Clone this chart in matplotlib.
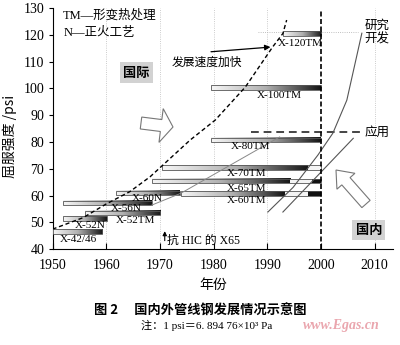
import numpy as np
import matplotlib
matplotlib.use('Agg')
import matplotlib.pyplot as plt
from matplotlib.colors import LinearSegmentedColormap
from matplotlib.patches import Polygon, Rectangle

SERIF = ['Liberation Serif', 'Noto Sans CJK SC']
CJK = ['Noto Sans CJK SC', 'DejaVu Sans']

# pipeline steel grades: service period (year) and yield strength (ksi)
grades     = ['X-42/46', 'X-52N', 'X-52TM', 'X-56N', 'X-60N', 'X-60TM',
              'X-65TM', 'X-70TM', 'X-80TM', 'X-100TM', 'X-120TM']
bar_start  = [1950, 1952, 1956, 1952, 1961.8, 1974, 1968.6, 1970.3, 1979.6, 1979.6, 1992.9]
bar_end    = [1959.3, 1960.1, 1970, 1968.5, 1973.7, 2000, 2000, 2000, 2000, 2000, 2000]
strength   = [46.6, 51.5, 53.6, 57.3, 61.0, 60.9, 65.5, 70.6, 80.7, 100.4, 120.5]
# light band where the domestic lines cut through a bar
gap_from   = [np.nan] * 5 + [1993.3, 1994.3, 1997.6] + [np.nan] * 3
gap_to     = [np.nan] * 5 + [1997.6, 1998.3, 2000] + [np.nan] * 3
label_year = [1954.9, 1957.0, 1965.5, 1963.8, 1967.7, 1986.2, 1986.2, 1986.2, 1986.8, 1992.2, 1996.1]
label_val  = [43.7, 48.8, 50.7, 55.3, 59.0, 58.1, 62.7, 68.3, 78.5, 97.5, 116.8]

# international trend curve (dashed)
trend_year = [1950, 1955.7, 1960, 1964.4, 1968.2, 1971.9, 1975.6, 1980.3, 1985.9, 1991.0, 1992.9, 1993.6]
trend_val  = [47.5, 51.8, 56.9, 61.5, 67.1, 73.9, 80.7, 88.2, 100.5, 115.5, 120.5, 125.5]

# domestic development lines
link_year = [1968.5, 1973.9, 1992.3]
link_val  = [56.5, 60.9, 81.9]
rd_year   = [2007.6, 2004.8, 2002.2, 1999.4, 1994.8, 1990.1]
rd_val    = [120.6, 95.6, 83.3, 75.1, 63.1, 53.9]
app_year  = [2006.0, 1992.9]
app_val   = [81.4, 53.9]
app_level = 83.6

W, H = 400, 345
fig = plt.figure(figsize=(W / 100, H / 100), dpi=100)
ax = fig.add_axes([52.5 / W, 1 - 249.3 / H, (393 - 52.5) / W, (249.3 - 8) / H])

bar_cmap = LinearSegmentedColormap.from_list('bar', ['#f6f6f6', '#b0b0b0', '#151515'])
grad = np.linspace(0, 1, 256).reshape(1, -1)
h = 1.7

for i, name in enumerate(grades):
    x0, x1, y = bar_start[i], bar_end[i], strength[i]
    g0 = x1 if np.isnan(gap_from[i]) else gap_from[i]
    ax.imshow(grad, extent=[x0, g0, y - h / 2, y + h / 2], cmap=bar_cmap,
              aspect='auto', interpolation='bilinear', zorder=3)
    if not np.isnan(gap_from[i]):
        ax.add_patch(Rectangle((gap_from[i], y - h / 2), gap_to[i] - gap_from[i], h,
                               fc='#f4f4f4', ec='none', zorder=3))
        if gap_to[i] < x1:
            ax.add_patch(Rectangle((gap_to[i], y - h / 2), x1 - gap_to[i], h,
                                   fc='#111111', ec='none', zorder=3))
    ax.add_patch(Rectangle((x0, y - h / 2), x1 - x0, h, fill=False,
                           ec='#555555', lw=0.6, zorder=4))
    ax.text(label_year[i], label_val[i], name, ha='center', va='center',
            fontsize=8, family=SERIF, zorder=5)

# trend curve and arrow
ax.plot(trend_year, trend_val, ls=(0, (3, 2)), color='k', lw=1.0, zorder=6)
ax.annotate('', xy=(1991.1, 115.5), xytext=(1979.0, 113.6),
            arrowprops=dict(arrowstyle='-|>', color='k', lw=0.9, mutation_scale=8))
ax.text(1972.2, 109.9, '发展速度加快', fontsize=8.5, family=CJK, va='center', ha='left')

# domestic lines
ax.plot(link_year, link_val, color='#888888', lw=0.7, zorder=4.5)
ax.plot(rd_year, rd_val, color='#555555', lw=0.8, zorder=4.5)
ax.plot(app_year, app_val, color='#555555', lw=0.8, zorder=4.5)
ax.plot([1987.0, 2007.8], [app_level, app_level], color='#444444', lw=1.4,
        ls=(0, (4, 2.5)), zorder=4)
ax.plot([1988.3, 2006.9], [121.1, 121.1], color='#aaaaaa', lw=0.6, ls=':', zorder=1)

# year 2000 marker
ax.plot([2000, 2000], [40, 129], color='k', lw=1.2, ls=(0, (3, 1.5)), zorder=6)

# texts
ax.text(1952.0, 127.3, 'TM—形变热处理', fontsize=9, family=SERIF, va='center')
ax.text(1952.0, 120.6, 'N—正火工艺', fontsize=9, family=SERIF, va='center')
ax.text(1965.6, 105.9, '国际', fontsize=9.5, family=CJK, fontweight='bold',
        ha='center', va='center',
        bbox=dict(fc='#d2d2d2', ec='none', boxstyle='square,pad=0.25'))
ax.text(2008.9, 47.2, '国内', fontsize=9.5, family=CJK, fontweight='bold',
        ha='center', va='center',
        bbox=dict(fc='#d2d2d2', ec='none', boxstyle='square,pad=0.25'))
ax.text(2010.4, 121.0, '研究\n开发', fontsize=9, family=CJK, ha='center',
        va='center', linespacing=1.15)
ax.text(2010.4, 83.7, '应用', fontsize=9, family=CJK, ha='center', va='center')
ax.annotate('', xy=(1970.9, 47.8), xytext=(1970.9, 42.2),
            arrowprops=dict(arrowstyle='-|>', color='k', lw=0.8, mutation_scale=6))
ax.text(1971.4, 43.2, '抗 HIC 的 X65', fontsize=8.5, family=SERIF, va='center')

# axes styling
ax.set_xlim(1950, 2013.4)
ax.set_ylim(40, 130)
ax.set_xticks(range(1950, 2011, 10))
ax.set_yticks(range(40, 131, 10))
for yr in range(1960, 2011, 10):
    if yr != 2000:
        ax.axvline(yr, color='#bbbbbb', lw=0.6, ls=':', zorder=0)
ax.spines['top'].set_visible(False)
ax.spines['right'].set_visible(False)
ax.tick_params(axis='x', direction='in', length=4, pad=7, labelsize=10)
ax.tick_params(axis='y', direction='out', length=3, pad=3, labelsize=10)
for lab in ax.get_xticklabels() + ax.get_yticklabels():
    lab.set_family(SERIF)


def block_arrow(tail, tip, shaft_w, head_w, head_l):
    """Hollow block arrow given in image pixels (y pointing down)."""
    t = np.array(tail, float)
    p = np.array(tip, float)
    d = p - t
    L = np.hypot(*d)
    u = d / L
    n = np.array([-u[1], u[0]])
    base = t + u * (L - head_l)
    pts = [t + n * shaft_w / 2, base + n * shaft_w / 2, base + n * head_w / 2, p,
           base - n * head_w / 2, base - n * shaft_w / 2, t - n * shaft_w / 2]
    pts = [(x / W, 1 - y / H) for x, y in pts]
    fig.add_artist(Polygon(pts, closed=True, transform=fig.transFigure,
                           fc='white', ec='#777777', lw=0.8, zorder=7))


block_arrow((141, 123), (173, 127), 12, 34, 12)
block_arrow((366, 204), (336, 170), 11, 24, 15)

# labels and caption
fig.text(10 / W, 1 - 136 / H, '屈服强度 /psi', rotation=90, ha='center', va='center',
         fontsize=10, family=CJK)
fig.text(213 / W, 1 - 285 / H, '年份', ha='center', va='center', fontsize=10, family=CJK)
fig.text(200 / W, 1 - 310.5 / H, '图 2　 国内外管线钢发展情况示意图', ha='center',
         va='center', fontsize=9.5, fontweight='bold', family=CJK)
fig.text(207 / W, 1 - 325 / H, '注：1 psi＝6. 894 76×10³ Pa', ha='center',
         va='center', fontsize=8, family=SERIF)
fig.text(341 / W, 1 - 325 / H, 'www.Egas.cn', ha='center', va='center', fontsize=10,
         family='Liberation Serif', style='italic', fontweight='bold', color='#eaa6ae')

fig.savefig('out.png', dpi=100)
